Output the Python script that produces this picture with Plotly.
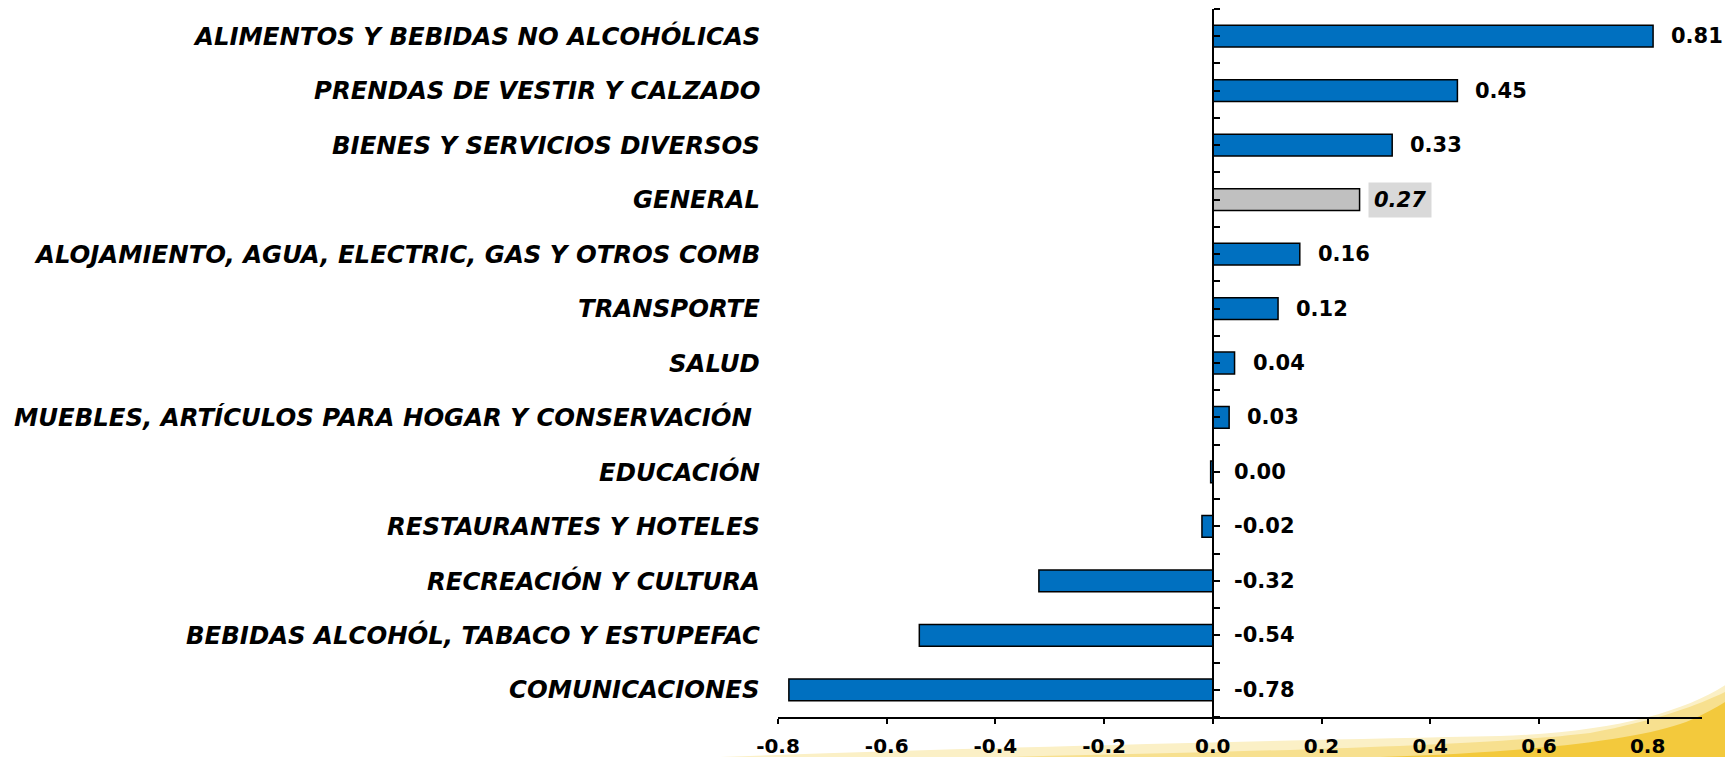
import plotly.graph_objects as go

# ---------------- data ----------------
categories = [
    "ALIMENTOS Y BEBIDAS NO ALCOHÓLICAS",
    "PRENDAS DE VESTIR Y CALZADO",
    "BIENES Y SERVICIOS DIVERSOS",
    "GENERAL",
    "ALOJAMIENTO, AGUA, ELECTRIC, GAS Y OTROS COMB",
    "TRANSPORTE",
    "SALUD",
    "MUEBLES, ARTÍCULOS PARA HOGAR Y CONSERVACIÓN\u00a0",
    "EDUCACIÓN",
    "RESTAURANTES Y HOTELES",
    "RECREACIÓN Y CULTURA",
    "BEBIDAS ALCOHÓL, TABACO Y ESTUPEFAC",
    "COMUNICACIONES",
]
values = [0.81, 0.45, 0.33, 0.27, 0.16, 0.12, 0.04, 0.03, -0.004, -0.02, -0.32, -0.54, -0.78]
highlight = "GENERAL"
x_tick_values = [-0.8, -0.6, -0.4, -0.2, 0.0, 0.2, 0.4, 0.6, 0.8]
x_range = [-0.8, 0.9]

# ---------------- style ----------------
OFF = 8                      # default page body margin
PAGE_W, PAGE_H = 1733, 757
W, H = PAGE_W - OFF, PAGE_H - OFF
ML, MR, MT, MB = 778 - OFF, 31, 9 - OFF, 40
PW, PH = W - ML - MR, H - MT - MB
BLUE, GRAY = "#0070C0", "#C0C0C0"
LABEL_FONT = dict(family="DejaVu Sans", size=24.4, color="black", weight="bold", style="italic")
VALUE_FONT = dict(family="DejaVu Sans", size=21, color="black", weight="bold")
TICK_FONT = dict(family="DejaVu Sans", size=20, color="black", weight="bold")

n = len(categories)
pos = list(range(n))
colors = [GRAY if c == highlight else BLUE for c in categories]

fig = go.Figure()
fig.add_trace(go.Bar(
    x=values, y=pos, orientation="h", width=0.4,
    marker=dict(color=colors, line=dict(color="black", width=1.5)),
    hoverinfo="skip", showlegend=False,
))

annotations = []
for c, v, p in zip(categories, values, pos):
    annotations.append(dict(
        x=0, xref="paper", y=p, yref="y", text=c, showarrow=False,
        xanchor="right", yanchor="middle", xshift=-16, font=LABEL_FONT,
    ))
    txt = f"{round(v, 2) + 0:.2f}"
    if c == highlight:
        annotations.append(dict(
            x=max(v, 0), y=p, xref="x", yref="y", text=txt,
            showarrow=False, xanchor="left", yanchor="middle", xshift=8,
            font=dict(VALUE_FONT, style="italic"), bgcolor="#D9D9D9", borderpad=5,
        ))
    else:
        annotations.append(dict(
            x=max(v, 0), y=p, xref="x", yref="y", text=txt,
            showarrow=False, xanchor="left", yanchor="middle",
            xshift=15 if v > 0 else 18,
            font=VALUE_FONT, bgcolor="white", borderpad=2,
        ))


def px_x(x):
    # page pixel -> paper fraction
    return (x - OFF - ML) / PW


def px_y(y):
    return (H - MB - (y - OFF)) / PH


def swoosh(points):
    parts = []
    for cmd, coords in points:
        conv = []
        for i in range(0, len(coords), 2):
            conv.append(f"{px_x(coords[i]):.4f},{px_y(coords[i+1]):.4f}")
        parts.append(cmd + " " + " ".join(conv))
    return " ".join(parts) + " Z"


shapes = [
    dict(type="path", xref="paper", yref="paper", layer="below", line=dict(width=0),
         fillcolor="#FBF0C6",
         path=swoosh([("M", [720, 757]), ("C", [1000, 747, 1300, 740, 1500, 736]),
                      ("C", [1620, 732, 1690, 710, 1733, 680]), ("L", [1733, 757])])),
    dict(type="path", xref="paper", yref="paper", layer="below", line=dict(width=0),
         fillcolor="#F7E08F",
         path=swoosh([("M", [1000, 757]), ("C", [1300, 751, 1500, 744, 1590, 733]),
                      ("C", [1665, 719, 1708, 701, 1733, 688]), ("L", [1733, 757])])),
    dict(type="path", xref="paper", yref="paper", layer="below", line=dict(width=0),
         fillcolor="#F3C93C",
         path=swoosh([("M", [1380, 757]), ("C", [1540, 752, 1640, 739, 1686, 722]),
                      ("C", [1710, 712, 1722, 704, 1733, 697]), ("L", [1733, 757])])),
]

y_line_pos = (0 - x_range[0]) / (x_range[1] - x_range[0])

fig.update_layout(
    width=W, height=H, autosize=False,
    margin=dict(l=ML, r=MR, t=MT, b=MB, pad=0),
    paper_bgcolor="white", plot_bgcolor="rgba(0,0,0,0)",
    showlegend=False,
    annotations=annotations, shapes=shapes,
    xaxis=dict(
        range=x_range, tickmode="array", tickvals=x_tick_values,
        ticktext=[f"{t:.1f}" for t in x_tick_values],
        showline=True, linecolor="black", linewidth=2,
        ticks="outside", ticklen=5, tickwidth=2, tickcolor="black",
        tickfont=TICK_FONT, ticklabelstandoff=5,
        showgrid=False, zeroline=False, automargin=False, fixedrange=True,
    ),
    yaxis=dict(
        range=[n - 0.5, -0.5], anchor="free", position=y_line_pos, side="right",
        showline=True, linecolor="black", linewidth=2,
        ticks="outside", ticklen=6, tickwidth=2, tickcolor="black",
        tickmode="linear", tick0=-0.5, dtick=0.5, showticklabels=False,
        showgrid=False, zeroline=False, automargin=False, fixedrange=True,
    ),
)

fig.write_html("out.html")
